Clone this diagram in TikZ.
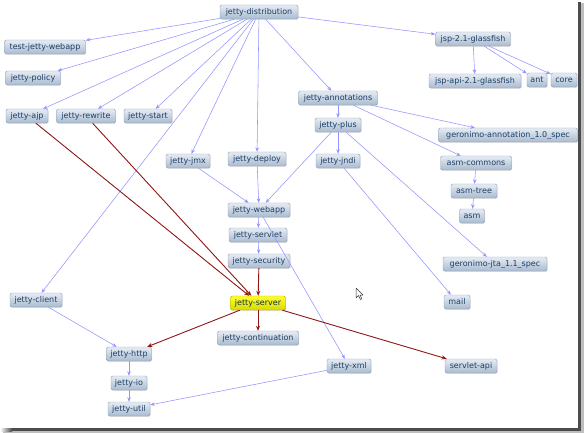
\documentclass[tikz,border=0pt]{standalone}
\usepackage{fontspec}
\setmainfont{DejaVu Sans}
\usetikzlibrary{arrows.meta,shadows}
\definecolor{boxtop}{HTML}{E6ECF4}
\definecolor{boxbot}{HTML}{A9BACF}
\definecolor{boxline}{HTML}{8C9FBA}
\definecolor{boxtext}{HTML}{1B3F66}
\definecolor{depblue}{HTML}{9494FF}
\definecolor{depred}{HTML}{8E1616}
\definecolor{yeltop}{HTML}{FFFF30}
\definecolor{yelbot}{HTML}{D8D800}
\begin{document}
\begin{tikzpicture}[x=1pt,y=-1pt,
  box/.style={draw=boxline, line width=0.4pt, rounded corners=1.5pt,
    top color=boxtop, bottom color=boxbot, text=boxtext,
    font=\fontsize{8}{9}\selectfont, minimum height=14pt, inner sep=0pt,
    drop shadow={opacity=0.25, shadow xshift=0.6pt, shadow yshift=-0.8pt}},
  hot/.style={box, top color=yeltop, bottom color=yelbot, draw=yelbot!80!black, text=boxtext!70!black},
  dep/.style={draw=depblue, line width=0.55pt, -{Stealth[length=4.5pt,width=3.5pt]}},
  hard/.style={draw=depred, line width=0.9pt, -{Stealth[length=5pt,width=4pt]}}]
\useasboundingbox (0,0) rectangle (584,433);
% frame shadow
\fill[gray!50] (581,3) rectangle (584,433);
\fill[gray!50] (3,431) rectangle (584,433);
\fill[black!70] (578,2) rectangle (581,431);
\fill[left color=white, right color=black!70] (0,428) rectangle (12,431);
\fill[black!70] (12,428) rectangle (581,431);
% nodes
\node[box, minimum width=78pt] (dist) at (259,12) {jetty-distribution};
\node[box, minimum width=81pt] (tjw) at (45,47) {test-jetty-webapp};
\node[box, minimum width=55pt] (policy) at (33,78) {jetty-policy};
\node[box, minimum width=42pt] (ajp) at (27,116) {jetty-ajp};
\node[box, minimum width=59pt] (rewrite) at (86,116) {jetty-rewrite};
\node[box, minimum width=48pt] (start) at (148,116) {jetty-start};
\node[box, minimum width=75pt] (jsp) at (473,39) {jsp-2.1-glassfish};
\node[box, minimum width=92pt] (jspapi) at (475,81) {jsp-api-2.1-glassfish};
\node[box, minimum width=20pt] (ant) at (537,80) {ant};
\node[box, minimum width=26pt] (core) at (564,80) {core};
\node[box, minimum width=79pt] (annot) at (338,98) {jetty-annotations};
\node[box, minimum width=46pt] (plus) at (338,125) {jetty-plus};
\node[box, minimum width=44pt] (jndi) at (338,161) {jetty-jndi};
\node[box, minimum width=139pt] (geran) at (508,135) {geronimo-annotation\_1.0\_spec};
\node[box, minimum width=71pt] (asmc) at (476,163) {asm-commons};
\node[box, minimum width=46pt] (asmt) at (474,191) {asm-tree};
\node[box, minimum width=25pt] (asm) at (472,216) {asm};
\node[box, minimum width=104pt] (jta) at (495,264) {geronimo-jta\_1.1\_spec};
\node[box, minimum width=26pt] (mail) at (457,302) {mail};
\node[box, minimum width=44pt] (jmx) at (188,161) {jetty-jmx};
\node[box, minimum width=58pt] (deploy) at (257,159) {jetty-deploy};
\node[box, minimum width=62pt] (webapp) at (259,210) {jetty-webapp};
\node[box, minimum width=58pt] (servlet) at (258,235) {jetty-servlet};
\node[box, minimum width=62pt] (security) at (259,261) {jetty-security};
\node[hot, minimum width=55pt] (server) at (258,303) {jetty-server};
\node[box, minimum width=81pt] (cont) at (258,338) {jetty-continuation};
\node[box, minimum width=52pt] (client) at (36,300) {jetty-client};
\node[box, minimum width=45pt] (http) at (129,354) {jetty-http};
\node[box, minimum width=36pt] (io) at (129,383) {jetty-io};
\node[box, minimum width=42pt] (util) at (129,409) {jetty-util};
\node[box, minimum width=44pt] (xml) at (349,366) {jetty-xml};
\node[box, minimum width=52pt] (sapi) at (471,366) {servlet-api};
% blue dependencies
\foreach \t in {tjw,policy,ajp,rewrite,start,client,jmx,deploy,annot,jsp}
  \draw[dep] (dist) -- (\t);
\foreach \t in {jspapi,ant,core} \draw[dep] (jsp) -- (\t);
\foreach \t in {plus,geran,asmc} \draw[dep] (annot) -- (\t);
\foreach \t in {jndi,webapp,jta} \draw[dep] (plus) -- (\t);
\draw[dep] (jndi) -- (mail);
\draw[dep] (asmc) -- (asmt);
\draw[dep] (asmt) -- (asm);
\draw[dep] (jmx) -- (webapp);
\draw[dep] (deploy) -- (webapp);
\draw[dep] (webapp) -- (servlet);
\draw[dep] (webapp) -- (xml);
\draw[dep] (servlet) -- (security);
\draw[dep] (client) -- (http);
\draw[dep] (http) -- (io);
\draw[dep] (io) -- (util);
\draw[dep] (xml) -- (util);
% red dependencies
\draw[hard] (security) -- (server);
\draw[hard] (ajp) -- (server);
\draw[hard] (rewrite) -- (server);
\draw[hard] (server) -- (http);
\draw[hard] (server) -- (cont);
\draw[hard] (server) -- (sapi);
% mouse cursor
\draw[black!80, fill=white, line width=0.5pt, line join=round]
  (356,288) -- (356,298) -- (358.5,295.5) -- (360.5,299.5) -- (362,298.8)
  -- (360,295) -- (363,295) -- cycle;
\end{tikzpicture}
\end{document}
